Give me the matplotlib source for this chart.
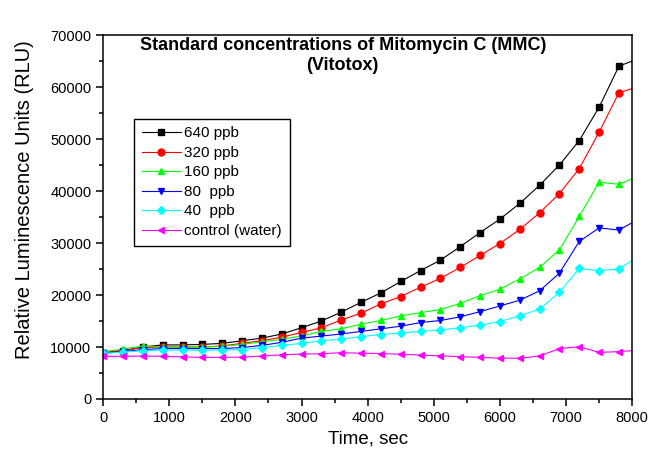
import matplotlib
matplotlib.use("Agg")
import matplotlib.pyplot as plt
from matplotlib.ticker import MultipleLocator

plt.rcParams['font.family'] = ['Liberation Sans', 'DejaVu Sans']

# Time points (sec); the last one lies just past the axis end
t = [0, 300, 600, 900, 1200, 1500, 1800, 2100, 2400, 2700, 3000, 3300, 3600, 3900,
     4200, 4500, 4800, 5100, 5400, 5700, 6000, 6300, 6600, 6900, 7200, 7500, 7800, 8100]

ppb640 = [8900, 9300, 10000, 10400, 10400, 10500, 10700, 11200, 11700, 12500, 13700, 15000,
          16700, 18600, 20400, 22600, 24700, 26700, 29300, 32000, 34600, 37600, 41100,
          45000, 49700, 56100, 64000, 65500]
ppb320 = [8900, 9300, 9900, 10000, 10000, 10000, 10200, 10700, 11200, 11900, 12800, 13700,
          15200, 16500, 18300, 19700, 21500, 23200, 25300, 27600, 29900, 32600, 35800,
          39500, 44300, 51300, 58900, 60100]
ppb160 = [9100, 9600, 10200, 10000, 10000, 10000, 10100, 10500, 11000, 11500, 12100, 13000,
          13500, 14400, 15100, 16000, 16600, 17200, 18400, 19900, 21100, 23100, 25300,
          28700, 35100, 41700, 41300, 42900]
ppb80 = [8800, 9100, 9500, 9700, 9700, 9700, 9700, 9900, 10300, 10900, 11700, 12100,
         12500, 13000, 13500, 14000, 14700, 15100, 15800, 16800, 17900, 19000, 20800,
         24200, 30300, 32900, 32500, 34600]
ppb40 = [8800, 9000, 9300, 9400, 9400, 9400, 9400, 9500, 9900, 10300, 10700, 11200,
         11500, 12000, 12400, 12700, 13000, 13300, 13700, 14200, 14900, 16000, 17300,
         20500, 25100, 24700, 25000, 27500]
control = [8200, 8200, 8250, 8200, 8100, 8000, 8000, 8050, 8250, 8500, 8650, 8700,
           8900, 8800, 8750, 8600, 8450, 8300, 8150, 8000, 7850, 7850, 8270,
           9700, 10050, 8970, 9100, 9400]

series = [
    (ppb640, "640 ppb", "black", "s"),
    (ppb320, "320 ppb", "red", "o"),
    (ppb160, "160 ppb", "#00ff00", "^"),
    (ppb80, "80  ppb", "blue", "v"),
    (ppb40, "40  ppb", "cyan", "D"),
    (control, "control (water)", "magenta", "<"),
]

fig = plt.figure(figsize=(6.49, 4.61), dpi=100)
ax = fig.add_axes([0.159, 0.1345, 0.815, 0.7895])

for y, label, color, marker in series:
    ms = 4.5 if marker == "D" else 5
    ax.plot(t, y, color=color, marker=marker, markersize=ms, lw=0.8, label=label)

ax.set_xlim(0, 8000)
ax.set_ylim(0, 70000)
ax.xaxis.set_major_locator(MultipleLocator(1000))
ax.xaxis.set_minor_locator(MultipleLocator(500))
ax.yaxis.set_major_locator(MultipleLocator(10000))
ax.yaxis.set_minor_locator(MultipleLocator(5000))
ax.tick_params(which='both', direction='out', top=False, right=False, width=1.1, labelsize=10.5)
ax.tick_params(which='major', length=5)
ax.tick_params(which='minor', length=3)
for s in ax.spines.values():
    s.set_linewidth(1.1)

ax.set_xlabel("Time, sec", fontsize=13.5)
ax.set_ylabel("Relative Luminescence Units (RLU)", fontsize=14.5)
ax.yaxis.set_label_coords(-0.13, 0.549)

ax.text(0.453, 0.995, "Standard concentrations of Mitomycin C (MMC)\n(Vitotox)",
        transform=ax.transAxes, ha='center', va='top', fontsize=13,
        fontweight='bold', linespacing=1.25)

leg = ax.legend(loc='upper left', bbox_to_anchor=(0.058, 0.77), fontsize=11,
                frameon=True, fancybox=False, framealpha=1, edgecolor='black',
                handlelength=2.6, handletextpad=0.2, labelspacing=0.36,
                borderpad=0.5, borderaxespad=0)
leg.get_frame().set_linewidth(1.0)

fig.savefig("out.png", dpi=100)
